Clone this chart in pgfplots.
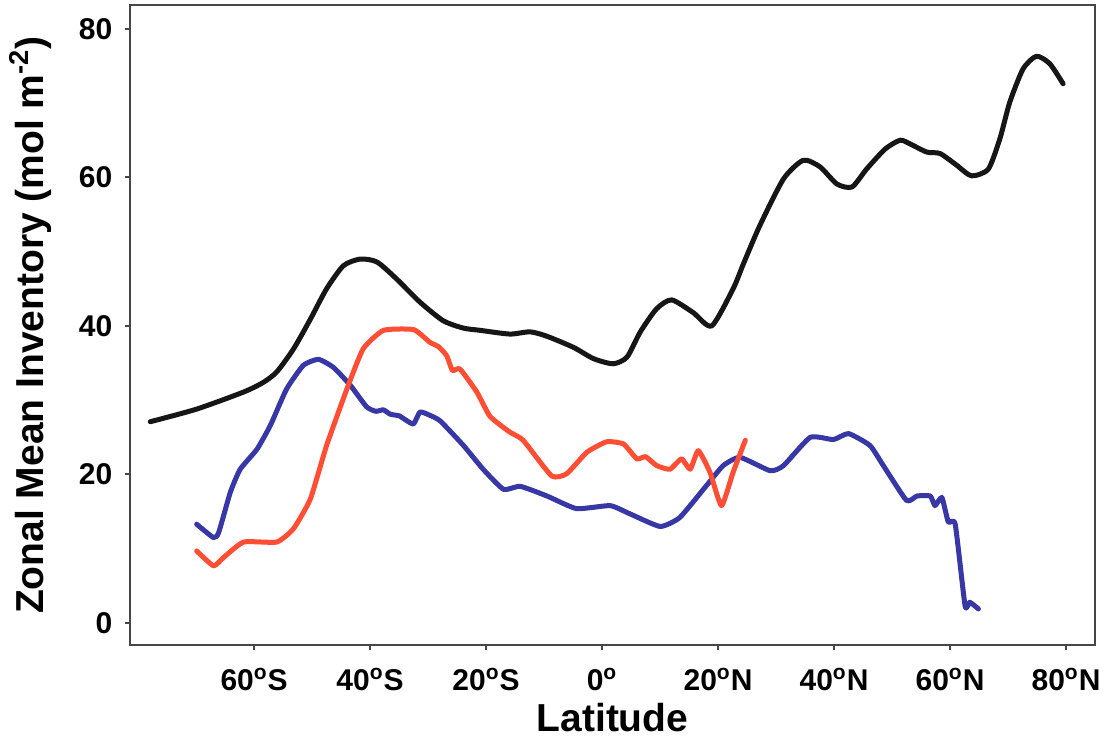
\documentclass[border=0pt]{standalone}
\usepackage{fontspec}
\setmainfont{Liberation Sans}
\usepackage{pgfplots}
\pgfplotsset{compat=1.18}
\definecolor{invBlack}{RGB}{22,22,22}
\definecolor{invBlue}{RGB}{55,55,165}
\definecolor{invRed}{RGB}{255,78,52}
\definecolor{frameCol}{RGB}{70,70,70}
\newcommand{\dg}{\textsuperscript{o}}
\tikzset{
  curve/.style={line width=2.5bp,line join=round,line cap=round},
}

\begin{document}
\begin{tikzpicture}
\begin{axis}[
  scale only axis, width=482.5bp, height=320bp,
  xmin=-81.4, xmax=85, ymin=-2.96, ymax=83.2,
  axis line style={frameCol,line width=1bp},
  xtick={-60,-40,...,80},
  xticklabels={60\dg S,40\dg S,20\dg S,0\dg,20\dg N,40\dg N,60\dg N,80\dg N},
  ytick={0,20,...,80},
  tick align=outside, tick pos=left,
  major tick length=2.5bp, tick style={frameCol,line width=1bp},
  tick label style={font=\bfseries\fontsize{15bp}{15bp}\selectfont},
  /pgf/number format/assume math mode=true,
  xticklabel style={anchor=base,yshift=-20bp},
  yticklabel style={xshift=-2.8bp},
  label style={font=\bfseries\fontsize{19.5bp}{20bp}\selectfont},
  xlabel={Latitude},
  ylabel={Zonal Mean Inventory (mol m\textsuperscript{-2})},
  xlabel style={at={(axis description cs:0.5,-0.1359)},anchor=base,inner sep=0pt},
  ylabel style={at={(axis description cs:-0.0895,0.5)},anchor=base,inner sep=0pt},
]
\coordinate (O) at (rel axis cs:0,0);

% total inventory
\addplot[curve,invBlack,smooth,tension=0.4] coordinates {
(-77.9,27.1) (-69.9,28.8) (-61.8,31.1) (-58.4,32.4) (-56.1,33.8) (-53.2,36.9)
(-50.3,40.9) (-47.5,45.0) (-44.6,48.1) (-41.7,49.0) (-38.8,48.6) (-35.4,46.3)
(-31.4,43.2) (-27.4,40.7) (-23.9,39.7) (-21.0,39.4) (-15.9,38.9) (-12.4,39.2)
(-9.5,38.6) (-4.9,37.1) (-1.5,35.6) (1.9,34.9) (4.3,35.8) (6.6,39.2) (9.4,42.3)
(12.0,43.5) (15.7,41.8) (18.9,40.0) (22.6,45.0) (24.4,48.4) (27.2,53.5)
(31.3,59.8) (34.7,62.3) (37.6,61.4) (40.5,59.1) (43.1,58.7) (45.6,61.1)
(48.8,63.8) (51.4,65.0) (53.1,64.5) (56.0,63.4) (58.3,63.2) (61.2,61.6)
(63.7,60.2) (66.6,61.1) (68.6,65.2) (70.3,70.1) (72.6,74.6) (74.9,76.3)
(77.2,75.3) (79.5,72.6)
};

% blue series
\addplot[curve,invBlue,smooth,tension=0.3] coordinates {
(-69.9,13.3) (-67.0,11.5) (-66.1,12.2) (-64.1,17.6) (-62.4,20.7) (-59.5,23.4)
(-57.2,26.6) (-54.4,31.5) (-51.5,34.7) (-48.9,35.5) (-46.3,34.4) (-43.4,32.0)
(-40.6,29.1) (-39.0,28.5) (-37.7,28.7) (-36.5,28.1) (-35.0,27.9) (-33.8,27.3)
(-32.5,26.8) (-31.4,28.4) (-29.8,28.0) (-27.9,27.2) (-23.9,23.9) (-20.5,20.7)
(-17.0,18.0) (-14.1,18.4) (-9.5,17.1) (-4.4,15.4) (1.4,15.8) (4.8,14.7)
(10.0,13.0) (13.4,14.2) (18.0,18.5) (20.9,21.2) (23.8,22.3) (29.0,20.5)
(31.3,21.2) (35.9,25.0) (39.9,24.7) (42.5,25.5) (46.2,23.9) (48.5,21.2)
(52.5,16.5) (54.3,17.1) (56.6,17.1) (57.4,15.8) (58.6,16.9) (59.7,13.6)
(60.9,13.3) (62.6,2.3) (63.4,2.8) (64.9,1.9)
};

% red series
\addplot[curve,invRed,smooth,tension=0.3] coordinates {
(-69.9,9.7) (-67.0,7.7) (-65.3,8.8) (-61.8,10.9) (-56.1,10.9) (-53.2,12.7)
(-50.3,16.7) (-47.5,23.9) (-44.0,31.5) (-41.2,36.9) (-37.7,39.4) (-32.5,39.5)
(-29.7,37.8) (-28.2,37.2) (-26.8,36.0) (-25.8,34.0) (-24.5,34.2) (-21.6,31.1)
(-19.3,27.8) (-15.9,25.7) (-13.6,24.6) (-8.7,19.8) (-6.1,20.1) (-2.6,23.0)
(0.8,24.4) (3.7,24.1) (6.0,22.1) (7.5,22.4) (9.4,21.2) (11.7,20.7) (13.7,22.1)
(15.2,20.7) (16.6,23.2) (18.6,20.3) (20.6,15.8) (22.6,20.3) (24.7,24.6)
};
\end{axis}
\pgfresetboundingbox
\path (O) ++(-65bp,-47.5bp) rectangle ++(552bp,370bp);
\end{tikzpicture}
\end{document}
